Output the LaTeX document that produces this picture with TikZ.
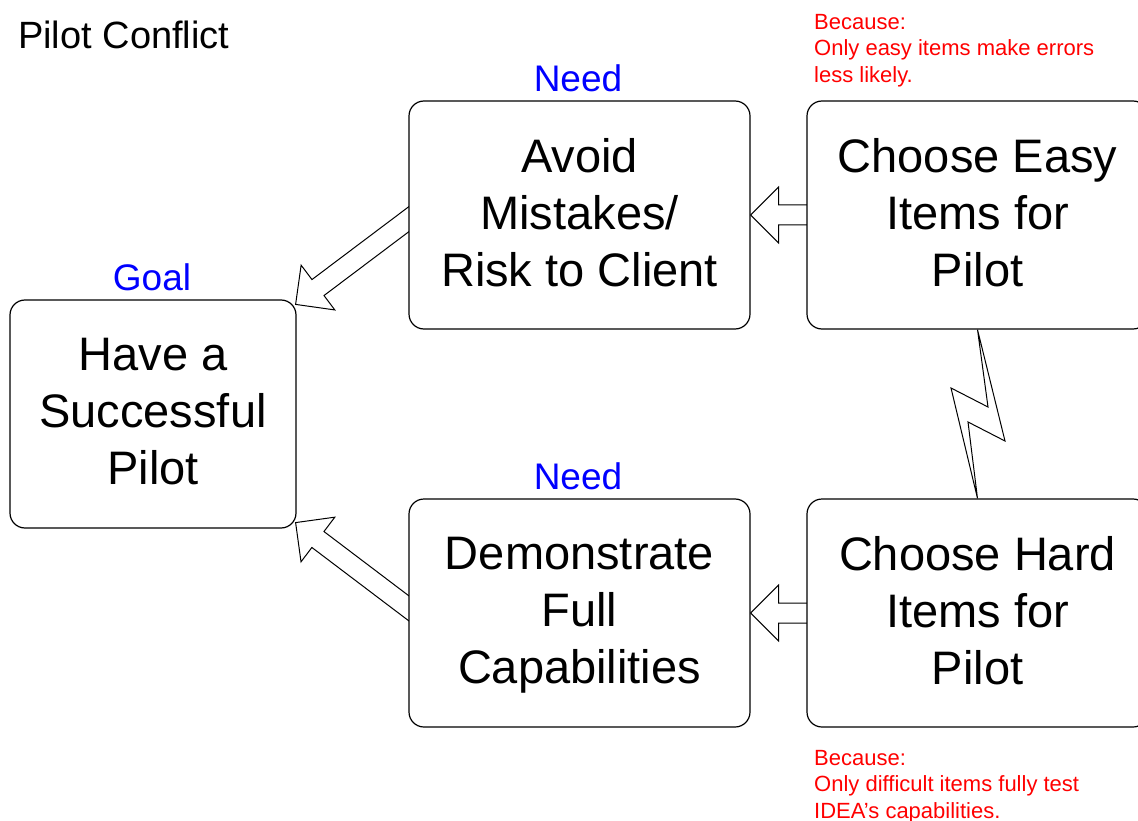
\documentclass[tikz,border=0pt]{standalone}
\usepackage{fontspec}
\setmainfont{Liberation Sans}
\usetikzlibrary{calc}
\definecolor{labelblue}{RGB}{0,0,255}
\definecolor{notered}{RGB}{255,0,0}

\pgfdeclarelayer{goallayer}
\pgfdeclarelayer{arrowlayer}
\pgfsetlayers{goallayer,arrowlayer,main}

\tikzset{
  box/.style={draw=black, line width=1.2pt, fill=white, rounded corners=15pt,
    align=center, inner sep=0pt, minimum width=341pt, minimum height=228pt,
    text depth=4.5pt, font=\fontsize{47pt}{57pt}\selectfont},
  tag/.style={text=labelblue, inner sep=0pt, font=\fontsize{37pt}{44pt}\selectfont},
  note/.style={text=notered, anchor=west, align=left, inner sep=0pt,
    font=\fontsize{22pt}{26.5pt}\selectfont},
  hollowarrow/.style={draw=black, line width=1pt, fill=white, line join=miter},
  bolt/.style={draw=black, line width=1pt, fill=white},
}

% hollow block arrow from #1 (tail, on a box edge) to #2 (tip)
\newcommand\blockarrow[2]{%
  \path ($(#1)!-30pt!(#2)$) coordinate (ba-t)
        ($(#2)!28pt!(#1)$) coordinate (ba-h);
  \draw[hollowarrow] (#2)
    -- ($(ba-h)!28pt!90:(ba-t)$)
    -- ($(ba-h)!10pt!90:(ba-t)$)
    -- ($(ba-t)!10pt!-90:(ba-h)$)
    -- ($(ba-t)!10pt!90:(ba-h)$)
    -- ($(ba-h)!10pt!-90:(ba-t)$)
    -- ($(ba-h)!28pt!-90:(ba-t)$)
    -- cycle;}

\begin{document}
\begin{tikzpicture}[x=1pt, y=-1pt]
  \useasboundingbox (0,0) rectangle (1138,821);
  \clip (0,0) rectangle (1138,821);

  \node[anchor=west, inner sep=0pt, font=\fontsize{38pt}{45pt}\selectfont]
    (title) at (18,35) {Pilot Conflict};

  % white page and goal box sit below the arrows so their tips stay visible
  \begin{pgfonlayer}{goallayer}
    \fill[white] (0,0) rectangle (1138,821);
    \node[box, minimum width=286pt] (goal) at (153,414)
      {Have a\\Successful\\Pilot};
  \end{pgfonlayer}

  \node[box] (avoid) at (579.5,215) {Avoid\\Mistakes/\\Risk to Client};
  \node[box] (demo)  at (579.5,613) {Demonstrate\\Full\\Capabilities};
  \node[box] (easy)  at (977.5,215) {Choose Easy\\Items for\\Pilot};
  \node[box] (hard)  at (977.5,613) {Choose Hard\\Items for\\Pilot};

  \node[tag] (goaltag)  at (152,277) {Goal};
  \node[tag] (needtop)  at (578,78)  {Need};
  \node[tag] (needbot)  at (578,476) {Need};

  \node[note] (easynote) at (814,50.5)
    {Because:\\Only easy items make errors\\less likely.};
  \node[note] (hardnote) at (814,786.5)
    {Because:\\Only difficult items fully test\\IDEA’s capabilities.};

  \begin{pgfonlayer}{arrowlayer}
    \coordinate (e1) at (easy.west);
    \coordinate (e2) at (hard.west);
    \coordinate (a1) at ($(avoid.west)+(0,4.5)$);
    \coordinate (d1) at ($(demo.west)+(0,-5)$);
    \coordinate (g1) at ($(goal.north east)+(-1,5)$);
    \coordinate (g2) at ($(goal.south east)+(-1,-6)$);
    \blockarrow{e1}{avoid.east}
    \blockarrow{e2}{demo.east}
    \blockarrow{a1}{g1}
    \blockarrow{d1}{g2}
    % conflict bolt between the two choices
    \draw[bolt] (easy.south) -- (988,407) -- (951,388) -- (hard.north)
      -- (968,422) -- (1005,441) -- cycle;
  \end{pgfonlayer}
\end{tikzpicture}
\end{document}
